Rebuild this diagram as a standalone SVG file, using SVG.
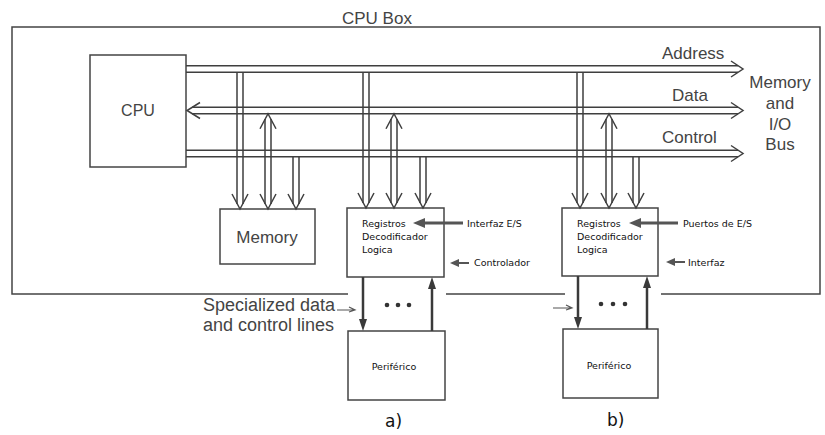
<svg xmlns="http://www.w3.org/2000/svg" xmlns:xlink="http://www.w3.org/1999/xlink" width="825" height="435" viewBox="0 0 825 435">
<defs>
<style>
.ln{stroke:#3f3f3f;stroke-width:1.5;fill:none}
.box{stroke:#444;stroke-width:1.5;fill:none}
.en{font-family:"Liberation Sans",Arial,sans-serif;fill:#444}
.es{font-family:"DejaVu Sans",sans-serif;font-size:9.5px;fill:#111}
.sp{stroke:#3a3a3a;stroke-width:2.5;fill:none}
.ga{stroke:#555;fill:none}
</style>
<path id="chD" d="M-8,-15 L0,0 L8,-15" class="ln"/>
<path id="chU" d="M-8,15 L0,0 L8,15" class="ln"/>
<path id="chR" d="M-12,-8 L0,0 L-12,8" class="ln"/>
<path id="chL" d="M13,-8 L0,0 L13,8" class="ln"/>
<path id="hdD" d="M0,0 L-4,-12 L4,-12 Z" fill="#3a3a3a"/>
<path id="hdU" d="M0,0 L-4,12 L4,12 Z" fill="#3a3a3a"/>
<path id="hdL" d="M0,0 L12,-5 L12,5 Z" fill="#555"/>
<path id="hdLs" d="M0,0 L9,-4 L9,4 Z" fill="#555"/>
</defs>
<rect width="825" height="435" fill="#fff"/>

<g id="cpu-box">
<path class="box" d="M348,294 H12 V27 H820 V294 H661 M565,294 H446"/>
<text class="en" x="342" y="24" font-size="17">CPU Box</text>
</g>

<g id="cpu">
<rect class="box" x="90" y="55" width="96" height="112"/>
<text class="en" x="138" y="116" font-size="16" text-anchor="middle">CPU</text>
</g>

<g id="memory">
<rect class="box" x="220" y="209" width="95" height="55"/>
<text class="en" x="267" y="243" font-size="17" text-anchor="middle">Memory</text>
</g>

<g id="controller-a">
<rect class="box" x="347" y="208" width="97" height="69"/>
<text class="es" x="362" y="227">Registros</text>
<text class="es" x="362" y="240">Decodificador</text>
<text class="es" x="362" y="253">Logica</text>
</g>

<g id="controller-b">
<rect class="box" x="562" y="208" width="96" height="68"/>
<text class="es" x="577" y="227">Registros</text>
<text class="es" x="577" y="240">Decodificador</text>
<text class="es" x="577" y="253">Logica</text>
</g>

<g id="peripheral-a">
<rect class="box" x="348" y="331" width="97" height="69"/>
<text class="es" x="394" y="370" text-anchor="middle">Periférico</text>
</g>

<g id="peripheral-b">
<rect class="box" x="563" y="329" width="95" height="69"/>
<text class="es" x="609" y="369" text-anchor="middle">Periférico</text>
</g>

<g id="bus-labels">
<text class="en" x="662" y="59" font-size="17">Address</text>
<text class="en" x="672" y="101" font-size="17">Data</text>
<text class="en" x="662" y="143" font-size="17">Control</text>
<text class="en" font-size="17" text-anchor="middle"><tspan x="780" y="88">Memory</tspan><tspan x="780" y="109">and</tspan><tspan x="780" y="130">I/O</tspan><tspan x="780" y="150">Bus</tspan></text>
</g>

<g id="labels">
<text class="es" x="467" y="227">Interfaz E/S</text>
<text class="es" x="474" y="266">Controlador</text>
<text class="es" x="683" y="227">Puertos de E/S</text>
<text class="es" x="688" y="266">Interfaz</text>
<text class="en" font-size="18"><tspan x="203" y="311">Specialized data</tspan><tspan x="203" y="331">and control lines</tspan></text>
<text x="385" y="427" font-family="DejaVu Sans,sans-serif" font-size="17" fill="#111">a)</text>
<text x="607" y="426" font-family="DejaVu Sans,sans-serif" font-size="17" fill="#111">b)</text>
</g>

<g id="connectors">
<!-- buses -->
<path class="ln" d="M186,65.75 H738 M186,72.25 H738"/>
<use href="#chR" x="743" y="69"/>
<path class="ln" d="M192,107.25 H738 M192,113.75 H738"/>
<use href="#chL" x="187" y="110.5"/>
<use href="#chR" x="743" y="110.5"/>
<path class="ln" d="M186,150.25 H738 M186,156.75 H738"/>
<use href="#chR" x="743" y="153.5"/>

<!-- memory drops -->
<path class="ln" d="M237,72.25 V204 M243,72.25 V204"/>
<use href="#chD" x="240" y="209"/>
<path class="ln" d="M265,119 V204 M271,119 V204"/>
<use href="#chU" x="268" y="113.75"/>
<use href="#chD" x="268" y="209"/>
<path class="ln" d="M293,156.75 V204 M299,156.75 V204"/>
<use href="#chD" x="296" y="209"/>

<!-- controller a drops -->
<path class="ln" d="M363,72.25 V203 M369,72.25 V203"/>
<use href="#chD" x="366" y="208"/>
<path class="ln" d="M391,119 V203 M397,119 V203"/>
<use href="#chU" x="394" y="113.75"/>
<use href="#chD" x="394" y="208"/>
<path class="ln" d="M420,156.75 V203 M426,156.75 V203"/>
<use href="#chD" x="423" y="208"/>

<!-- controller b drops -->
<path class="ln" d="M577,72.25 V203 M583,72.25 V203"/>
<use href="#chD" x="580" y="208"/>
<path class="ln" d="M606,119 V203 M612,119 V203"/>
<use href="#chU" x="609" y="113.75"/>
<use href="#chD" x="609" y="208"/>
<path class="ln" d="M633,156.75 V203 M639,156.75 V203"/>
<use href="#chD" x="636" y="208"/>

<!-- specialized lines a -->
<path class="sp" d="M363,277 V320"/>
<use href="#hdD" x="363" y="331"/>
<path class="sp" d="M432,331 V288"/>
<use href="#hdU" x="432" y="277"/>
<circle cx="387" cy="305" r="2.3" fill="#333"/>
<circle cx="398" cy="305" r="2.3" fill="#333"/>
<circle cx="409" cy="305" r="2.3" fill="#333"/>

<!-- specialized lines b -->
<path class="sp" d="M578,276 V318"/>
<use href="#hdD" x="578" y="329"/>
<path class="sp" d="M647,329 V287"/>
<use href="#hdU" x="647" y="276"/>
<circle cx="601" cy="304" r="2.3" fill="#333"/>
<circle cx="613" cy="304" r="2.3" fill="#333"/>
<circle cx="625" cy="304" r="2.3" fill="#333"/>

<!-- small pointer arrows -->
<path class="ga" stroke-width="1.2" d="M337,310 H354 M349,307 L355,310 L349,312"/>
<path class="ga" stroke-width="1.2" d="M553,308 H571 M566,305 L572,308 L566,310"/>

<!-- label arrows -->
<path class="ga" stroke-width="3" d="M463,223 H424"/>
<use href="#hdL" x="413" y="223"/>
<path class="ga" stroke-width="3" d="M678,223 H640"/>
<use href="#hdL" x="629" y="223"/>
<path class="ga" stroke-width="2" d="M469,263 H458"/>
<use href="#hdLs" x="450" y="263"/>
<path class="ga" stroke-width="2" d="M685,262 H674"/>
<use href="#hdLs" x="666" y="262"/>
</g>
</svg>
